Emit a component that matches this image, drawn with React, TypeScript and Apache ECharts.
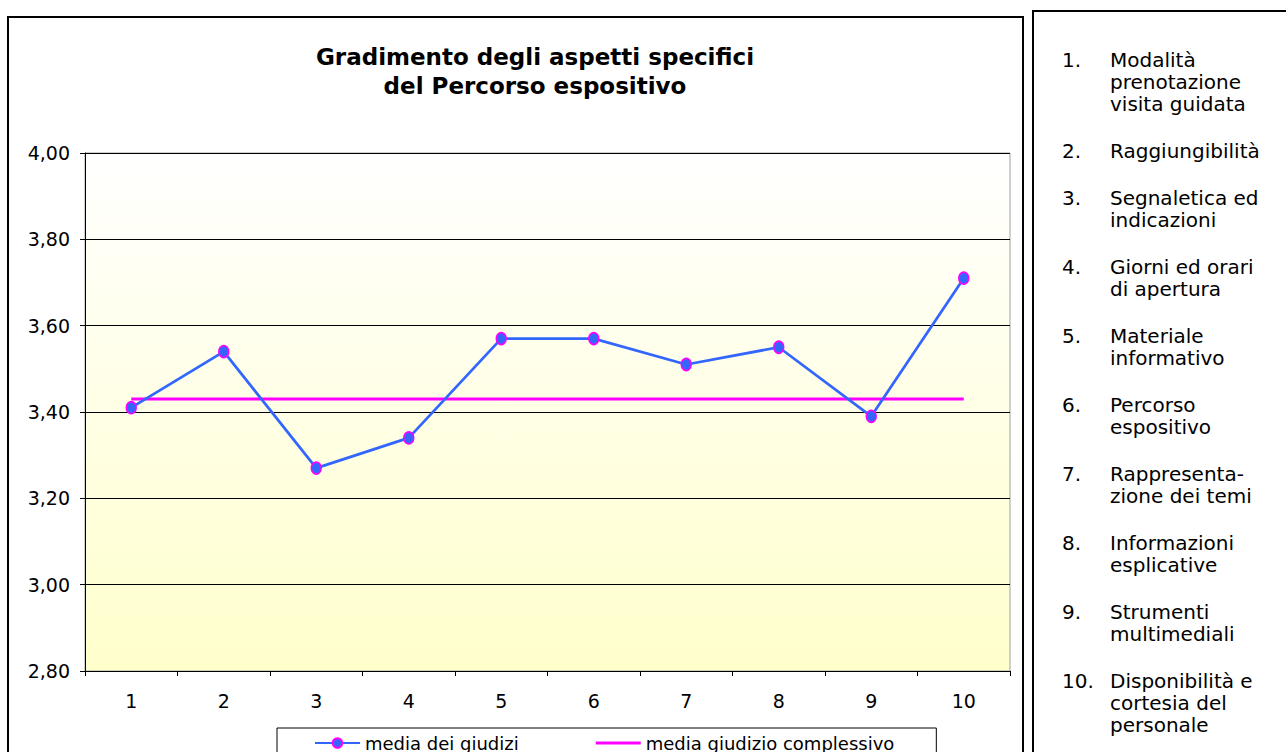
import React, { useEffect, useRef } from "react";
import * as echarts from "echarts";

const chartTitle = "Gradimento degli aspetti specifici\ndel Percorso espositivo";
const categories = ["1", "2", "3", "4", "5", "6", "7", "8", "9", "10"];
const seriesNames = ["media dei giudizi", "media giudizio complessivo"];
const mediaGiudizi = [3.41, 3.54, 3.27, 3.34, 3.57, 3.57, 3.51, 3.55, 3.39, 3.71];
const mediaComplessiva = [3.43, 3.43, 3.43, 3.43, 3.43, 3.43, 3.43, 3.43, 3.43, 3.43];
const yMin = 2.8;
const yMax = 4.0;
const yStep = 0.2;
const aspectNumbers = ["1.", "2.", "3.", "4.", "5.", "6.", "7.", "8.", "9.", "10."];
const aspectLabels = [
  ["Modalità", "prenotazione", "visita guidata"],
  ["Raggiungibilità"],
  ["Segnaletica ed", "indicazioni"],
  ["Giorni ed orari", "di apertura"],
  ["Materiale", "informativo"],
  ["Percorso", "espositivo"],
  ["Rappresenta-", "zione dei temi"],
  ["Informazioni", "esplicative"],
  ["Strumenti", "multimediali"],
  ["Disponibilità e", "cortesia del", "personale"],
];

const FONT = "DejaVu Sans";

export default function App() {
  const ref = useRef<HTMLDivElement>(null);

  useEffect(() => {
    if (!ref.current) return;
    const chart = echarts.init(ref.current, null, { renderer: "svg" });

    const panelTexts: any[] = [];
    const lineH = 22;
    const gap = 25;
    let y = 60;
    aspectLabels.forEach((lines, i) => {
      panelTexts.push({
        type: "text",
        x: 1062,
        y,
        style: { text: aspectNumbers[i], fontSize: 20, fontFamily: FONT, fill: "#000", align: "left", verticalAlign: "middle" },
      });
      lines.forEach((ln, j) => {
        panelTexts.push({
          type: "text",
          x: 1110,
          y: y + j * lineH,
          style: { text: ln, fontSize: 20, fontFamily: FONT, fill: "#000", align: "left", verticalAlign: "middle" },
        });
      });
      y += lines.length * lineH + gap;
    });

    chart.setOption({
      animation: false,
      backgroundColor: "#ffffff",
      textStyle: { fontFamily: FONT },
      graphic: [
        {
          type: "rect",
          z: -1,
          shape: { x: 8, y: 17, width: 1015, height: 800 },
          style: { fill: "none", stroke: "#000", lineWidth: 2 },
        },
        {
          type: "rect",
          z: -1,
          shape: { x: 1033, y: 11, width: 300, height: 800 },
          style: { fill: "#fff", stroke: "#000", lineWidth: 2 },
        },
        {
          type: "text",
          x: 535,
          y: 71,
          style: {
            text: chartTitle,
            fontSize: 23,
            fontWeight: "bold",
            fontFamily: FONT,
            fill: "#000",
            align: "center",
            verticalAlign: "middle",
            lineHeight: 29,
          },
        },
        ...panelTexts,
      ],
      legend: {
        left: 277,
        top: 728,
        padding: [6, 42, 40, 37],
        itemGap: 77,
        itemWidth: 45,
        itemHeight: 12,
        borderColor: "#000",
        borderWidth: 1,
        backgroundColor: "#fff",
        textStyle: { fontSize: 18, fontFamily: FONT, color: "#000" },
        data: [
          { name: seriesNames[0] },
          { name: seriesNames[1], icon: "path://M0,0H45V3H0Z" },
        ],
      },
      grid: {
        left: 85,
        top: 153,
        right: 276,
        bottom: 81,
        show: true,
        borderColor: "#A0A0A0",
        borderWidth: 1,
        backgroundColor: {
          type: "linear",
          x: 0,
          y: 0,
          x2: 0,
          y2: 1,
          colorStops: [
            { offset: 0, color: "#FFFFFF" },
            { offset: 1, color: "#FFFFCC" },
          ],
        },
      },
      xAxis: {
        type: "category",
        data: categories,
        boundaryGap: true,
        axisLine: { show: true, lineStyle: { color: "#000", width: 1 } },
        axisTick: { show: true, length: 5, lineStyle: { color: "#000" } },
        axisLabel: { margin: 20, fontSize: 19, color: "#000", fontFamily: FONT },
        splitLine: { show: false },
      },
      yAxis: {
        type: "value",
        min: yMin,
        max: yMax,
        interval: yStep,
        axisLine: { show: true, lineStyle: { color: "#000", width: 1 } },
        axisTick: { show: true, length: 5, lineStyle: { color: "#000" } },
        axisLabel: {
          margin: 15,
          fontSize: 19,
          color: "#000",
          fontFamily: FONT,
          formatter: (v: number) => v.toFixed(2).replace(".", ","),
        },
        splitLine: { show: true, lineStyle: { color: "#000", width: 1 } },
      },
      series: [
        {
          name: seriesNames[0],
          type: "line",
          data: mediaGiudizi,
          symbol: "circle",
          symbolSize: [10, 12],
          showSymbol: true,
          color: "#3366FF",
          lineStyle: { color: "#3366FF", width: 2.75 },
          itemStyle: { color: "#3366FF", borderColor: "#FF00FF", borderWidth: 1.5 },
          z: 3,
        },
        {
          name: seriesNames[1],
          type: "line",
          data: mediaComplessiva,
          symbol: "none",
          color: "#FF00FF",
          lineStyle: { color: "#FF00FF", width: 3 },
          z: 2,
        },
      ],
    });

    return () => chart.dispose();
  }, []);

  return (
    <div
      ref={ref}
      style={{ position: "absolute", left: 0, top: 0, width: 1286, height: 752 }}
    />
  );
}
